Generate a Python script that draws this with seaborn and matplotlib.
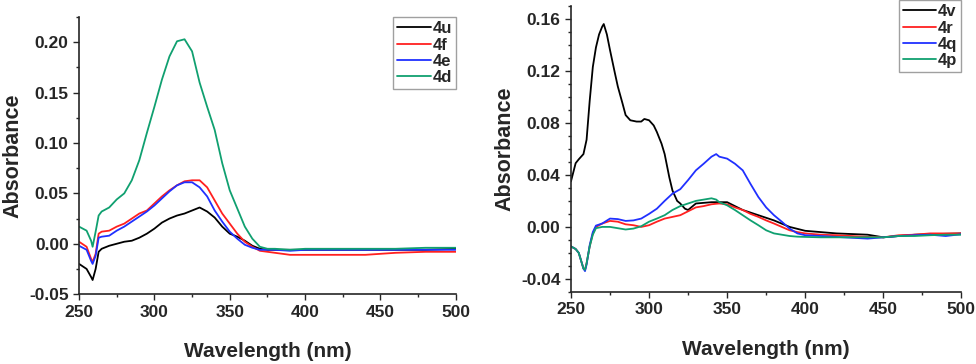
import numpy as np
import pandas as pd
import matplotlib
matplotlib.use("Agg")
import matplotlib.pyplot as plt
from matplotlib.ticker import MultipleLocator, FormatStrFormatter
import seaborn as sns

# ---- left panel data ----
wl_left = [250, 255, 258, 259, 261, 263, 265, 270, 275, 280, 285, 290, 295, 300,
           305, 310, 315, 320, 325, 330, 335, 340, 345, 350, 355, 360, 365, 370,
           375, 380, 390, 400, 420, 440, 460, 480, 500]
abs_4u = [-0.020, -0.025, -0.033, -0.036, -0.025, -0.008, -0.005, -0.002, 0.000, 0.002,
          0.003, 0.006, 0.010, 0.015, 0.021, 0.025, 0.028, 0.030, 0.033, 0.036,
          0.032, 0.026, 0.017, 0.010, 0.007, 0.003, -0.002, -0.005, -0.006, -0.006,
          -0.006, -0.006, -0.006, -0.006, -0.006, -0.006, -0.005]
abs_4f = [0.002, -0.003, -0.015, -0.018, -0.010, 0.010, 0.012, 0.013, 0.017, 0.020,
          0.025, 0.030, 0.033, 0.040, 0.047, 0.053, 0.058, 0.062, 0.063, 0.063,
          0.056, 0.043, 0.030, 0.020, 0.010, 0.002, -0.003, -0.007, -0.008, -0.009,
          -0.011, -0.011, -0.011, -0.011, -0.009, -0.008, -0.008]
abs_4e = [-0.002, -0.006, -0.017, -0.020, -0.012, 0.006, 0.007, 0.008, 0.013, 0.017,
          0.022, 0.027, 0.032, 0.038, 0.045, 0.052, 0.058, 0.061, 0.061, 0.056,
          0.047, 0.033, 0.022, 0.012, 0.005, -0.001, -0.004, -0.006, -0.006, -0.006,
          -0.007, -0.006, -0.006, -0.006, -0.006, -0.006, -0.006]
abs_4d = [0.017, 0.013, 0.003, -0.003, 0.012, 0.028, 0.032, 0.036, 0.044, 0.050,
          0.063, 0.083, 0.110, 0.136, 0.163, 0.186, 0.201, 0.203, 0.191, 0.160,
          0.136, 0.113, 0.080, 0.053, 0.035, 0.017, 0.005, -0.003, -0.005, -0.005,
          -0.006, -0.005, -0.005, -0.005, -0.005, -0.004, -0.004]

# ---- right panel data ----
wl_4v = [250, 253, 255, 258, 260, 262, 264, 266, 268, 270, 271, 273, 275, 278, 280,
         283, 285, 288, 292, 295, 297, 300, 303, 305, 308, 310, 313, 315, 318, 320,
         323, 325, 330, 340, 350, 360, 370, 380, 390, 400, 410, 420, 440, 450, 470, 500]
abs_4v = [0.035, 0.049, 0.052, 0.056, 0.067, 0.097, 0.123, 0.138, 0.148, 0.154, 0.156,
          0.148, 0.136, 0.119, 0.108, 0.095, 0.086, 0.082, 0.081, 0.081, 0.083, 0.082,
          0.078, 0.073, 0.064, 0.056, 0.038, 0.028, 0.020, 0.018, 0.014, 0.013, 0.018,
          0.019, 0.019, 0.013, 0.009, 0.005, 0.000, -0.003, -0.004, -0.005, -0.006,
          -0.008, -0.006, -0.005]
wl_right = [250, 253, 255, 257, 258, 259, 260, 262, 264, 266, 270, 275, 280, 285, 290,
            295, 300, 305, 310, 315, 320, 325, 330, 335, 340, 343, 345, 350, 355, 360,
            365, 370, 375, 380, 385, 390, 395, 400, 410, 420, 440, 450, 460, 470, 480,
            490, 500]
abs_4r = [-0.015, -0.017, -0.020, -0.028, -0.032, -0.033, -0.028, -0.015, -0.005, 0.000,
          0.0026, 0.0046, 0.004, 0.002, 0.0013, 0.000, 0.0013, 0.004, 0.0064, 0.0077,
          0.009, 0.012, 0.015, 0.016, 0.0174, 0.0178, 0.018, 0.0174, 0.015, 0.013,
          0.010, 0.0077, 0.005, 0.0026, 0.000, -0.0026, -0.004, -0.005, -0.006, -0.0064,
          -0.0077, -0.008, -0.0064, -0.006, -0.005, -0.005, -0.005]
abs_4q = [-0.015, -0.017, -0.020, -0.028, -0.032, -0.034, -0.029, -0.014, -0.004, 0.001,
          0.0026, 0.0064, 0.006, 0.0046, 0.005, 0.0064, 0.010, 0.014, 0.020, 0.0256,
          0.029, 0.036, 0.0435, 0.0486, 0.054, 0.056, 0.054, 0.0525, 0.0486, 0.0435,
          0.033, 0.023, 0.015, 0.009, 0.004, -0.0013, -0.005, -0.0064, -0.007, -0.0077,
          -0.009, -0.008, -0.007, -0.0064, -0.006, -0.007, -0.0056]
abs_4p = [-0.015, -0.017, -0.020, -0.028, -0.032, -0.033, -0.028, -0.015, -0.006, -0.001,
          0.000, 0.000, -0.001, -0.002, -0.0013, 0.0005, 0.004, 0.0064, 0.009, 0.013,
          0.016, 0.018, 0.020, 0.021, 0.022, 0.021, 0.019, 0.0166, 0.013, 0.009,
          0.005, 0.0013, -0.0026, -0.005, -0.006, -0.007, -0.0075, -0.0077, -0.008, -0.008,
          -0.008, -0.008, -0.007, -0.007, -0.0064, -0.006, -0.006]

left_names = ["4u", "4f", "4e", "4d"]
right_names = ["4v", "4r", "4q", "4p"]
colors = ["#000000", "#ff2020", "#2030ff", "#10a070"]


def long_df(pairs):
    # pairs: list of (name, wavelengths, values)
    frames = []
    for name, wl, vals in pairs:
        frames.append(pd.DataFrame({"wl": wl, "abs": vals, "sample": name}))
    return pd.concat(frames, ignore_index=True)


df_left = long_df([("4u", wl_left, abs_4u), ("4f", wl_left, abs_4f),
                   ("4e", wl_left, abs_4e), ("4d", wl_left, abs_4d)])
df_right = long_df([("4v", wl_4v, abs_4v), ("4r", wl_right, abs_4r),
                    ("4q", wl_right, abs_4q), ("4p", wl_right, abs_4p)])

sns.set_style("ticks")
plt.rcParams["font.family"] = ["Liberation Sans", "DejaVu Sans"]
plt.rcParams["font.weight"] = "bold"

fig = plt.figure(figsize=(9.76, 3.64), dpi=100)
ax1 = fig.add_axes([0.081, 0.192, 0.386, 0.761])
ax2 = fig.add_axes([0.585, 0.198, 0.400, 0.786])


def style_axes(ax, df, names, ylim, ymajor, yminor, yfmt, legend_bbox):
    sns.lineplot(data=df, x="wl", y="abs", hue="sample", hue_order=names,
                 palette=dict(zip(names, colors)), estimator=None, sort=False,
                 linewidth=1.3, ax=ax)
    ax.set_xlim(250, 500)
    ax.set_ylim(*ylim)
    ax.xaxis.set_major_locator(MultipleLocator(50))
    ax.xaxis.set_minor_locator(MultipleLocator(25))
    ax.yaxis.set_major_locator(MultipleLocator(ymajor))
    ax.yaxis.set_minor_locator(MultipleLocator(yminor))
    ax.yaxis.set_major_formatter(FormatStrFormatter(yfmt))
    ax.tick_params(which="major", length=4, width=1, labelsize=12.5, direction="out")
    ax.tick_params(which="minor", length=2.5, width=1, direction="out")
    for lab in ax.get_xticklabels() + ax.get_yticklabels():
        lab.set_fontweight("bold")
    sns.despine(ax=ax)
    ax.spines["left"].set_linewidth(1.2)
    ax.spines["bottom"].set_linewidth(1.2)
    ax.set_xlabel("Wavelength (nm)", fontsize=15, fontweight="bold", labelpad=16)
    ax.set_ylabel("Absorbance", fontsize=15.5, fontweight="bold", labelpad=4)
    leg = ax.legend(loc="upper right", bbox_to_anchor=legend_bbox, frameon=True,
                    fancybox=False, handlelength=2.0, handletextpad=0.1,
                    labelspacing=0.08, borderpad=0.25, borderaxespad=0.0,
                    prop={"weight": "bold", "size": 12})
    leg.get_frame().set_edgecolor("#888888")
    leg.get_frame().set_linewidth(1.0)


style_axes(ax1, df_left, left_names, (-0.05, 0.225), 0.05, 0.025, "%.2f", (1.0, 1.0))
style_axes(ax2, df_right, right_names, (-0.05, 0.17), 0.04, 0.01, "%.2f", (1.0, 1.02))

fig.savefig("out.png", dpi=100)
